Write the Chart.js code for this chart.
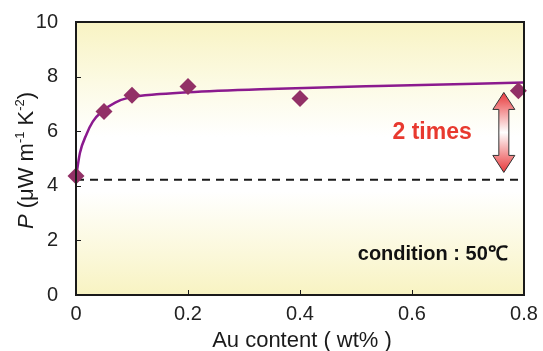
<!DOCTYPE html>
<html>
<head>
<meta charset="utf-8">
<script src="https://cdn.jsdelivr.net/npm/chart.js@4"></script>
<style>
  html, body { margin: 0; padding: 0; background: #fff; }
  #wrap { width: 543px; height: 351px; }
</style>
</head>
<body>
<div id="wrap"><canvas id="c" width="543" height="351"></canvas></div>
<script>
// measured points
const auContent = [0, 0.05, 0.1, 0.2, 0.4, 0.79];
const powerFactor = [4.36, 6.72, 7.32, 7.64, 7.2, 7.48];

// fitted curve
const fitX = [0, 0.007, 0.019, 0.03, 0.046, 0.07, 0.096, 0.15, 0.2, 0.33, 0.54, 0.8];
const fitY = [4.3, 5.2, 5.9, 6.35, 6.72, 7.05, 7.24, 7.36, 7.43, 7.54, 7.66, 7.78];

// baseline (Au-free sample)
const baseX = [0, 0.8];
const baseY = [4.22, 4.22];

const xTicks = [0, 0.2, 0.4, 0.6, 0.8];
const yTicks = [0, 2, 4, 6, 8, 10];

const FONT = 'Helvetica, "Liberation Sans", Arial, sans-serif';

const toXY = (xs, ys) => xs.map((x, i) => ({ x: x, y: ys[i] }));

const decor = {
    id: 'decor',
    beforeDraw(chart) {
        const { ctx, chartArea: a } = chart;
        const g = ctx.createLinearGradient(0, a.top, 0, a.bottom);
        g.addColorStop(0, '#f8f3c3');
        g.addColorStop(0.22, '#fcfae3');
        g.addColorStop(0.42, '#ffffff');
        g.addColorStop(0.62, '#ffffff');
        g.addColorStop(0.85, '#fbf8da');
        g.addColorStop(1, '#f8f3c2');
        ctx.save();
        ctx.fillStyle = g;
        ctx.fillRect(a.left, a.top, a.right - a.left, a.bottom - a.top);
        ctx.restore();
    },
    afterDraw(chart) {
        const { ctx, chartArea: a, scales } = chart;
        const xs = scales.x, ys = scales.y;
        ctx.save();
        // frame
        ctx.strokeStyle = '#1a1a1a';
        ctx.lineWidth = 2;
        ctx.strokeRect(a.left, a.top, a.right - a.left, a.bottom - a.top);
        // inside ticks
        ctx.lineWidth = 1;
        xTicks.forEach(v => {
            const px = Math.round(xs.getPixelForValue(v)) + 0.5;
            ctx.beginPath(); ctx.moveTo(px, a.bottom); ctx.lineTo(px, a.bottom - 5); ctx.stroke();
        });
        yTicks.forEach(v => {
            const py = Math.round(ys.getPixelForValue(v)) + 0.5;
            ctx.beginPath(); ctx.moveTo(a.left, py); ctx.lineTo(a.left + 5, py); ctx.stroke();
        });

        // x axis title
        ctx.fillStyle = '#1a1a1a';
        ctx.font = '22px ' + FONT;
        ctx.textAlign = 'center';
        ctx.textBaseline = 'middle';
        ctx.fillText('Au content ( wt% )', (a.left + a.right) / 2 + 2, 341);

        // y axis title with italic P and superscripts
        ctx.textAlign = 'left';
        ctx.translate(27, (a.top + a.bottom) / 2 + 2);
        ctx.rotate(-Math.PI / 2);
        const parts = [
            { t: 'P', f: 'italic 22px ' + FONT, dy: 0 },
            { t: ' (μW m', f: '22px ' + FONT, dy: 0 },
            { t: '-1', f: '13px ' + FONT, dy: -7 },
            { t: ' K', f: '22px ' + FONT, dy: 0 },
            { t: '-2', f: '13px ' + FONT, dy: -7 },
            { t: ')', f: '22px ' + FONT, dy: 0 }
        ];
        let total = 0;
        parts.forEach(p => { ctx.font = p.f; total += ctx.measureText(p.t).width; });
        let cx = -total / 2;
        parts.forEach(p => {
            ctx.font = p.f;
            ctx.fillText(p.t, cx, p.dy);
            cx += ctx.measureText(p.t).width;
        });
        ctx.setTransform(1, 0, 0, 1, 0, 0);

        // double arrow
        const ax = xs.getPixelForValue(0.764);
        const top = ys.getPixelForValue(7.42);
        const bot = ys.getPixelForValue(4.49);
        const sw = 5, hw = 11, hl = 17;
        const ag = ctx.createLinearGradient(0, top, 0, bot);
        ag.addColorStop(0, '#e8383a');
        ag.addColorStop(0.5, '#ffffff');
        ag.addColorStop(1, '#e8383a');
        ctx.beginPath();
        ctx.moveTo(ax, top);
        ctx.lineTo(ax + hw, top + hl);
        ctx.lineTo(ax + sw, top + hl);
        ctx.lineTo(ax + sw, bot - hl);
        ctx.lineTo(ax + hw, bot - hl);
        ctx.lineTo(ax, bot);
        ctx.lineTo(ax - hw, bot - hl);
        ctx.lineTo(ax - sw, bot - hl);
        ctx.lineTo(ax - sw, top + hl);
        ctx.lineTo(ax - hw, top + hl);
        ctx.closePath();
        ctx.fillStyle = ag;
        ctx.fill();
        ctx.strokeStyle = '#333';
        ctx.lineWidth = 1;
        ctx.stroke();

        // labels
        ctx.fillStyle = '#e8392e';
        ctx.font = 'bold 23px ' + FONT;
        ctx.textAlign = 'center';
        ctx.textBaseline = 'middle';
        ctx.fillText('2 times', xs.getPixelForValue(0.636), ys.getPixelForValue(5.95));

        ctx.fillStyle = '#111';
        ctx.font = 'bold 20px ' + FONT;
        ctx.textAlign = 'right';
        ctx.fillText('condition : 50℃', xs.getPixelForValue(0.771), ys.getPixelForValue(1.48));
        ctx.restore();
    }
};

new Chart(document.getElementById('c'), {
    type: 'scatter',
    data: {
        datasets: [
            {
                label: 'fit',
                type: 'line',
                data: toXY(fitX, fitY),
                borderColor: '#8b1a8e',
                borderWidth: 2.5,
                pointRadius: 0,
                cubicInterpolationMode: 'monotone',
                order: 2
            },
            {
                label: 'base',
                type: 'line',
                data: toXY(baseX, baseY),
                borderColor: '#1a1a1a',
                borderWidth: 2,
                borderDash: [8, 6],
                pointRadius: 0,
                order: 3
            },
            {
                label: 'P',
                data: toXY(auContent, powerFactor),
                pointStyle: 'rectRot',
                pointRadius: 8.5,
                backgroundColor: '#923066',
                borderColor: '#923066',
                borderWidth: 0,
                clip: false,
                order: 1
            }
        ]
    },
    options: {
        responsive: false,
        animation: false,
        layout: { padding: { top: 21, right: 19, left: 0, bottom: 0 } },
        plugins: { legend: { display: false }, tooltip: { enabled: false } },
        scales: {
            x: {
                type: 'linear',
                min: 0, max: 0.8,
                afterBuildTicks: s => { s.ticks = xTicks.map(v => ({ value: v })); },
                afterFit: s => { s.height = 56; },
                grid: { display: false },
                border: { display: false },
                ticks: {
                    color: '#222',
                    font: { family: FONT, size: 20 },
                    padding: -1,
                    maxRotation: 0,
                    callback: v => v === 0 ? '0' : v.toFixed(1)
                },
                title: { display: false }
            },
            y: {
                min: 0, max: 10,
                afterBuildTicks: s => { s.ticks = yTicks.map(v => ({ value: v })); },
                afterFit: s => { s.width = 76; },
                grid: { display: false },
                border: { display: false },
                ticks: {
                    color: '#222',
                    font: { family: FONT, size: 20 },
                    padding: 10
                }
            }
        }
    },
    plugins: [decor]
});
</script>
</body>
</html>
